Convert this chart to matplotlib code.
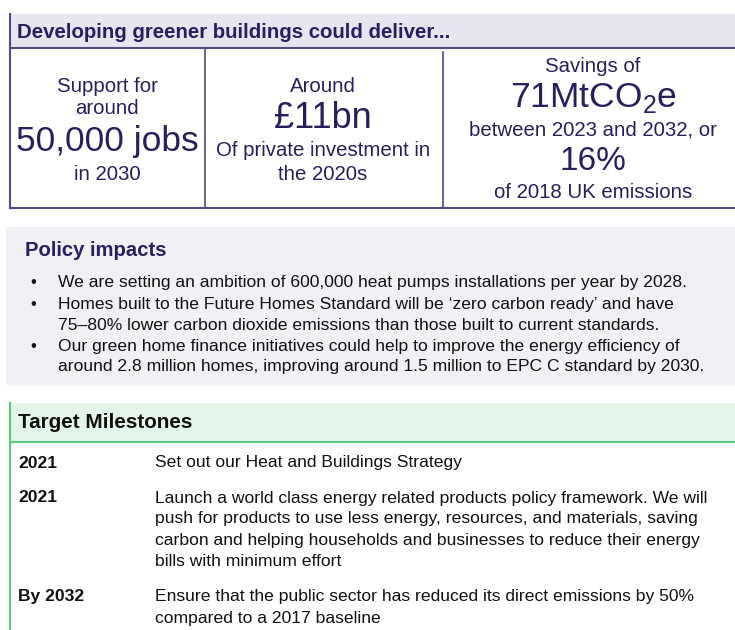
import matplotlib.pyplot as plt
import matplotlib.patches as patches
from matplotlib import font_manager

# Headline figures, one column each
headline_title = 'Developing greener buildings could deliver...'
col1_lines = ['Support for', 'around', '50,000 jobs', 'in 2030']
col2_lines = ['Around', '£11bn', 'Of private investment in', 'the 2020s']
col3_lines = ['Savings of', '71MtCO$_\\mathrm{2}$e', 'between 2023 and 2032, or', '16%', 'of 2018 UK emissions']

# Policy impacts bullets (already wrapped as in the source)
policy_title = 'Policy impacts'
policy_bullets = [
    ['We are setting an ambition of 600,000 heat pumps installations per year by 2028.'],
    ['Homes built to the Future Homes Standard will be \u2018zero carbon ready\u2019 and have',
     '75\u201380% lower carbon dioxide emissions than those built to current standards.'],
    ['Our green home finance initiatives could help to improve the energy efficiency of',
     'around 2.8 million homes, improving around 1.5 million to EPC C standard by 2030.'],
]

# Milestones
milestone_title = 'Target Milestones'
milestone_years = ['2021', '2021', 'By 2032']
milestone_texts = [
    ['Set out our Heat and Buildings Strategy'],
    ['Launch a world class energy related products policy framework. We will',
     'push for products to use less energy, resources, and materials, saving',
     'carbon and helping households and businesses to reduce their energy',
     'bills with minimum effort'],
    ['Ensure that the public sector has reduced its direct emissions by 50%',
     'compared to a 2017 baseline'],
]

names = {f.name for f in font_manager.fontManager.ttflist}
main_font = 'Liberation Sans' if 'Liberation Sans' in names else 'DejaVu Sans'
narrow_font = 'Liberation Sans Narrow' if 'Liberation Sans Narrow' in names else main_font

plt.rcParams['font.family'] = main_font
plt.rcParams['mathtext.fontset'] = 'custom'
plt.rcParams['mathtext.rm'] = main_font

navy = '#2b1d5e'
purple_line = '#55497f'
green_line = '#5cc77c'

fig = plt.figure(figsize=(7.35, 6.3), dpi=100)
ax = fig.add_axes([0, 0, 1, 1])
ax.set_xlim(0, 735)
ax.set_ylim(630, 0)
ax.axis('off')

# --- headline box ---
ax.add_patch(patches.Rectangle((10, 14), 725, 34, facecolor='#e7e5f0', edgecolor='none'))
ax.plot([10, 735], [48, 48], color=purple_line, lw=1.5)
ax.plot([10, 735], [208, 208], color=purple_line, lw=1.5)
ax.plot([10, 10], [14, 208], color=purple_line, lw=1.5)
ax.plot([205, 205], [48, 208], color=purple_line, lw=1.2)
ax.plot([443, 443], [52, 208], color=purple_line, lw=1.2)
ax.text(17, 32, headline_title, fontsize=14.7, fontweight='bold', color=navy, va='center')

def column(x, ys, lines, sizes):
    for y, s, size in zip(ys, lines, sizes):
        ax.text(x, y, s, fontsize=size, color=navy, ha='center', va='center')

small, big = 14.7, 25.5
column(107, [87, 109, 142, 174], col1_lines, [small, small, big, small])
column(323, [86, 118, 150, 174], col2_lines, [small, big + 0.5, small, small])
column(593, [66, 98, 130, 162, 193], col3_lines, [small, big, small, 24, small])

# --- policy impacts ---
ax.add_patch(patches.Rectangle((6, 227), 729, 158, facecolor='#f1f1f5', edgecolor='none'))
ax.text(25, 250, policy_title, fontsize=14.6, fontweight='bold', color=navy,
        va='center', family=narrow_font)
y = 283
for lines in policy_bullets:
    ax.text(30, y, '\u2022', fontsize=12, color='#111111', va='center')
    for line in lines:
        ax.text(58, y, line, fontsize=12.6, color='#111111', va='center', family=narrow_font)
        y += 21

# --- milestones ---
ax.add_patch(patches.Rectangle((10, 403), 725, 39, facecolor='#e3f5e8', edgecolor='none'))
ax.plot([10, 735], [442, 442], color=green_line, lw=1.5)
ax.plot([10, 10], [403, 630], color=green_line, lw=1.5)
ax.text(18, 423, milestone_title, fontsize=14.9, fontweight='bold', color='#111111',
        va='center', family=narrow_font)
row_y = [463, 498, 597]
for yr, lines, y0 in zip(milestone_years, milestone_texts, row_y):
    ax.text(18, y0, yr, fontsize=12.6, fontweight='bold', color='#111111',
            va='center', family=narrow_font)
    for i, line in enumerate(lines):
        ax.text(155, y0 + i * 21, line, fontsize=12.6, color='#111111',
                va='center', family=narrow_font)

fig.savefig('out.png', dpi=100)
